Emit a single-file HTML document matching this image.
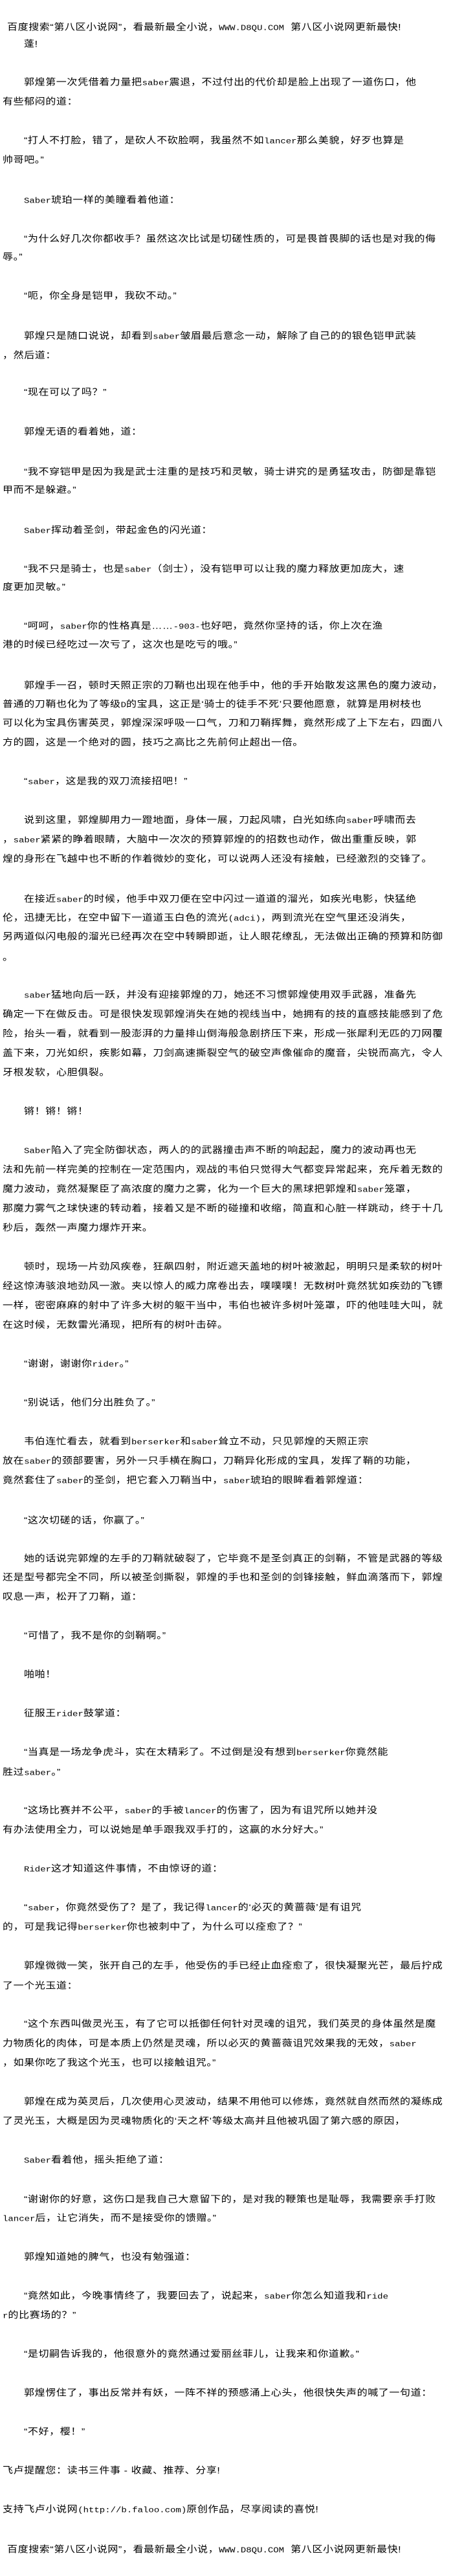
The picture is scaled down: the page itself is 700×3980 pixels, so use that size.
<!DOCTYPE html>
<html><head><meta charset="utf-8">
<style>
html,body{margin:0;padding:0;background:#fff;}
body{width:700px;height:3980px;position:relative;overflow:hidden;color:#000;
font-family:"Liberation Sans","Noto Sans CJK SC","WenQuanYi Zen Hei",sans-serif;font-size:16px;}
.t{position:absolute;left:4px;height:30px;line-height:30px;white-space:nowrap;letter-spacing:0.6px;transform:scaleY(0.88);transform-origin:left center;}
.i{left:37px;}
.h{left:11px;}
.l{font-family:"Liberation Mono",monospace;font-size:14px;letter-spacing:0;font-style:normal;}
</style></head><body>
<div class="t h" style="top:28px">百度搜索“第八区小说网”，看最新最全小说，<i class="l">WWW.D8QU.COM</i>&nbsp;&nbsp;第八区小说网更新最快!</div>
<div class="t i" style="top:54px">蓬!</div>
<div class="t i" style="top:113px">郭煌第一次凭借着力量把<i class="l">saber</i>震退，不过付出的代价却是脸上出现了一道伤口，他</div>
<div class="t" style="top:143px">有些郁闷的道：</div>
<div class="t i" style="top:203px">“打人不打脸，错了，是砍人不砍脸啊，我虽然不如<i class="l">lancer</i>那么美貌，好歹也算是</div>
<div class="t" style="top:233px">帅哥吧。”</div>
<div class="t i" style="top:295px"><i class="l">Saber</i>琥珀一样的美瞳看着他道：</div>
<div class="t i" style="top:355px">“为什么好几次你都收手？虽然这次比试是切磋性质的，可是畏首畏脚的话也是对我的侮</div>
<div class="t" style="top:383px">辱。”</div>
<div class="t i" style="top:443px">“呃，你全身是铠甲，我砍不动。”</div>
<div class="t i" style="top:505px">郭煌只是随口说说，却看到<i class="l">saber</i>皱眉最后意念一动，解除了自己的的银色铠甲武装</div>
<div class="t" style="top:535px">，然后道：</div>
<div class="t i" style="top:592px">“现在可以了吗？”</div>
<div class="t i" style="top:653px">郭煌无语的看着她，道：</div>
<div class="t i" style="top:715px">“我不穿铠甲是因为我是武士注重的是技巧和灵敏，骑士讲究的是勇猛攻击，防御是靠铠</div>
<div class="t" style="top:743px">甲而不是躲避。”</div>
<div class="t i" style="top:805px"><i class="l">Saber</i>挥动着圣剑，带起金色的闪光道：</div>
<div class="t i" style="top:865px">“我不只是骑士，也是<i class="l">saber</i>（剑士），没有铠甲可以让我的魔力释放更加庞大，速</div>
<div class="t" style="top:893px">度更加灵敏。”</div>
<div class="t i" style="top:953px">“呵呵，<i class="l">saber</i>你的性格真是……<i class="l">-903-</i>也好吧，竟然你坚持的话，你上次在渔</div>
<div class="t" style="top:982px">港的时候已经吃过一次亏了，这次也是吃亏的哦。”</div>
<div class="t i" style="top:1045px">郭煌手一召，顿时天照正宗的刀鞘也出现在他手中，他的手开始散发这黑色的魔力波动，</div>
<div class="t" style="top:1074px">普通的刀鞘也化为了等级<i class="l">D</i>的宝具，这正是‘骑士的徒手不死’只要他愿意，就算是用树枝也</div>
<div class="t" style="top:1103px">可以化为宝具伤害英灵，郭煌深深呼吸一口气，刀和刀鞘挥舞，竟然形成了上下左右，四面八</div>
<div class="t" style="top:1133px">方的圆，这是一个绝对的圆，技巧之高比之先前何止超出一倍。</div>
<div class="t i" style="top:1193px">“<i class="l">saber</i>，这是我的双刀流接招吧！”</div>
<div class="t i" style="top:1253px">说到这里，郭煌脚用力一蹬地面，身体一展，刀起风啸，白光如练向<i class="l">saber</i>呼啸而去</div>
<div class="t" style="top:1283px">，<i class="l">saber</i>紧紧的睁着眼睛，大脑中一次次的预算郭煌的的招数也动作，做出重重反映，郭</div>
<div class="t" style="top:1313px">煌的身形在飞越中也不断的作着微妙的变化，可以说两人还没有接触，已经激烈的交锋了。</div>
<div class="t i" style="top:1375px">在接近<i class="l">saber</i>的时候，他手中双刀便在空中闪过一道道的溜光，如疾光电影，快猛绝</div>
<div class="t" style="top:1404px">伦，迅捷无比，在空中留下一道道玉白色的流光<i class="l">(adci)</i>，两到流光在空气里还没消失，</div>
<div class="t" style="top:1433px">另两道似闪电般的溜光已经再次在空中转瞬即逝，让人眼花缭乱，无法做出正确的预算和防御</div>
<div class="t" style="top:1465px">。</div>
<div class="t i" style="top:1523px"><i class="l">saber</i>猛地向后一跃，并没有迎接郭煌的刀，她还不习惯郭煌使用双手武器，准备先</div>
<div class="t" style="top:1553px">确定一下在做反击。可是很快发现郭煌消失在她的视线当中，她拥有的技的直感技能感到了危</div>
<div class="t" style="top:1583px">险，抬头一看，就看到一股澎湃的力量排山倒海般急剧挤压下来，形成一张犀利无匹的刀网覆</div>
<div class="t" style="top:1613px">盖下来，刀光如织，疾影如幕，刀剑高速撕裂空气的破空声像催命的魔音，尖锐而高亢，令人</div>
<div class="t" style="top:1643px">牙根发软，心胆俱裂。</div>
<div class="t i" style="top:1703px">锵！锵！锵！</div>
<div class="t i" style="top:1763px"><i class="l">Saber</i>陷入了完全防御状态，两人的的武器撞击声不断的响起起，魔力的波动再也无</div>
<div class="t" style="top:1793px">法和先前一样完美的控制在一定范围内，观战的韦伯只觉得大气都变异常起来，充斥着无数的</div>
<div class="t" style="top:1823px">魔力波动，竟然凝聚臣了高浓度的魔力之雾，化为一个巨大的黑球把郭煌和<i class="l">saber</i>笼罩，</div>
<div class="t" style="top:1853px">那魔力雾气之球快速的转动着，接着又是不断的碰撞和收缩，简直和心脏一样跳动，终于十几</div>
<div class="t" style="top:1883px">秒后，轰然一声魔力爆炸开来。</div>
<div class="t i" style="top:1943px">顿时，现场一片劲风疾卷，狂飙四射，附近遮天盖地的树叶被激起，明明只是柔软的树叶</div>
<div class="t" style="top:1973px">经这惊涛骇浪地劲风一激。夹以惊人的威力席卷出去，噗噗噗！无数树叶竟然犹如疾劲的飞镖</div>
<div class="t" style="top:2003px">一样，密密麻麻的射中了许多大树的躯干当中，韦伯也被许多树叶笼罩，吓的他哇哇大叫，就</div>
<div class="t" style="top:2033px">在这时候，无数雷光涌现，把所有的树叶击碎。</div>
<div class="t i" style="top:2093px">“谢谢，谢谢你<i class="l">rider</i>。”</div>
<div class="t i" style="top:2153px">“别说话，他们分出胜负了。”</div>
<div class="t i" style="top:2213px">韦伯连忙看去，就看到<i class="l">berserker</i>和<i class="l">saber</i>耸立不动，只见郭煌的天照正宗</div>
<div class="t" style="top:2243px">放在<i class="l">saber</i>的颈部要害，另外一只手横在胸口，刀鞘异化形成的宝具，发挥了鞘的功能，</div>
<div class="t" style="top:2273px">竟然套住了<i class="l">saber</i>的圣剑，把它套入刀鞘当中，<i class="l">saber</i>琥珀的眼眸看着郭煌道：</div>
<div class="t i" style="top:2335px">“这次切磋的话，你赢了。”</div>
<div class="t i" style="top:2394px">她的话说完郭煌的左手的刀鞘就破裂了，它毕竟不是圣剑真正的剑鞘，不管是武器的等级</div>
<div class="t" style="top:2423px">还是型号都完全不同，所以被圣剑撕裂，郭煌的手也和圣剑的剑锋接触，鲜血滴落而下，郭煌</div>
<div class="t" style="top:2453px">叹息一声，松开了刀鞘，道：</div>
<div class="t i" style="top:2513px">“可惜了，我不是你的剑鞘啊。”</div>
<div class="t i" style="top:2573px">啪啪！</div>
<div class="t i" style="top:2633px">征服王<i class="l">rider</i>鼓掌道：</div>
<div class="t i" style="top:2693px">“当真是一场龙争虎斗，实在太精彩了。不过倒是没有想到<i class="l">berserker</i>你竟然能</div>
<div class="t" style="top:2724px">胜过<i class="l">saber</i>。”</div>
<div class="t i" style="top:2783px">“这场比赛并不公平，<i class="l">saber</i>的手被<i class="l">lancer</i>的伤害了，因为有诅咒所以她并没</div>
<div class="t" style="top:2813px">有办法使用全力，可以说她是单手跟我双手打的，这赢的水分好大。”</div>
<div class="t i" style="top:2873px"><i class="l">Rider</i>这才知道这件事情，不由惊讶的道：</div>
<div class="t i" style="top:2933px">“<i class="l">saber</i>，你竟然受伤了？是了，我记得<i class="l">lancer</i>的‘必灭的黄蔷薇’是有诅咒</div>
<div class="t" style="top:2963px">的，可是我记得<i class="l">berserker</i>你也被刺中了，为什么可以痊愈了？”</div>
<div class="t i" style="top:3023px">郭煌微微一笑，张开自己的左手，他受伤的手已经止血痊愈了，很快凝聚光芒，最后拧成</div>
<div class="t" style="top:3054px">了一个光玉道：</div>
<div class="t i" style="top:3113px">“这个东西叫做灵光玉，有了它可以抵御任何针对灵魂的诅咒，我们英灵的身体虽然是魔</div>
<div class="t" style="top:3143px">力物质化的肉体，可是本质上仍然是灵魂，所以必灭的黄蔷薇诅咒效果我的无效，<i class="l">saber</i></div>
<div class="t" style="top:3173px">，如果你吃了我这个光玉，也可以接触诅咒。”</div>
<div class="t i" style="top:3233px">郭煌在成为英灵后，几次使用心灵波动，结果不用他可以修炼，竟然就自然而然的凝练成</div>
<div class="t" style="top:3263px">了灵光玉，大概是因为灵魂物质化的‘天之杯’等级太高并且他被巩固了第六感的原因，</div>
<div class="t i" style="top:3323px"><i class="l">Saber</i>看着他，摇头拒绝了道：</div>
<div class="t i" style="top:3384px">“谢谢你的好意，这伤口是我自己大意留下的，是对我的鞭策也是耻辱，我需要亲手打败</div>
<div class="t" style="top:3413px"><i class="l">lancer</i>后，让它消失，而不是接受你的馈赠。”</div>
<div class="t i" style="top:3473px">郭煌知道她的脾气，也没有勉强道：</div>
<div class="t i" style="top:3533px">“竟然如此，今晚事情终了，我要回去了，说起来，<i class="l">saber</i>你怎么知道我和<i class="l">ride</i></div>
<div class="t" style="top:3563px"><i class="l">r</i>的比赛场的？”</div>
<div class="t i" style="top:3623px">“是切嗣告诉我的，他很意外的竟然通过爱丽丝菲儿，让我来和你道歉。”</div>
<div class="t i" style="top:3683px">郭煌愣住了，事出反常并有妖，一阵不祥的预感涌上心头，他很快失声的喊了一句道：</div>
<div class="t i" style="top:3743px">“不好，樱！”</div>
<div class="t" style="top:3803px">飞卢提醒您：读书三件事 - 收藏、推荐、分享!</div>
<div class="t" style="top:3863px">支持飞卢小说网<i class="l">(http://b.faloo.com)</i>原创作品，尽享阅读的喜悦!</div>
<div class="t h" style="top:3925px">百度搜索“第八区小说网”，看最新最全小说，<i class="l">WWW.D8QU.COM</i>&nbsp;&nbsp;第八区小说网更新最快!</div>
</body></html>
